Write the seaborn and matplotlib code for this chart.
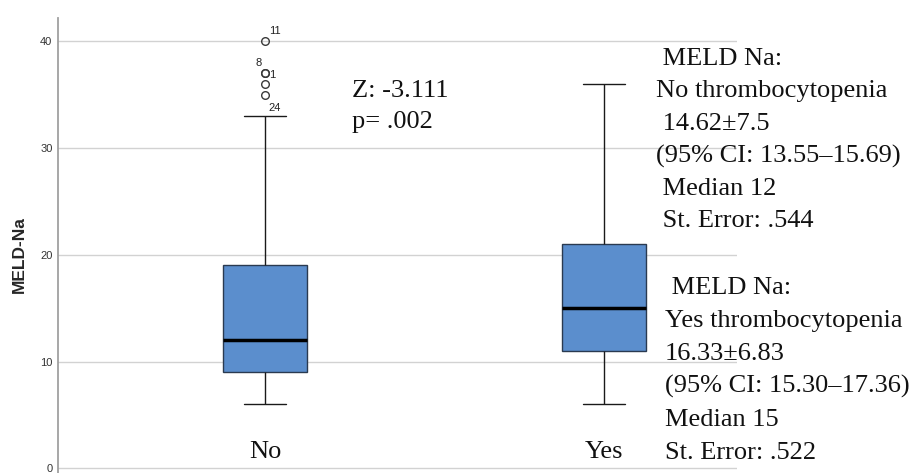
import numpy as np
import pandas as pd
import matplotlib
matplotlib.use("Agg")
import matplotlib.pyplot as plt
import seaborn as sns

# group labels shown under the boxes
groups = ["No", "Yes"]

# MELD-Na values read back from the boxes (quartiles, whiskers, outliers)
meld_no = [6, 7, 7, 8, 8, 9, 9, 10, 10, 11, 11, 12, 12, 13, 14, 15, 17, 18, 19,
           33, 35, 36, 37, 37, 40]
meld_yes = [6, 9, 11, 13, 15, 18, 21, 28, 36]

# SPSS case numbers printed next to the outliers of the "No" group
outlier_ids = ["11", "8", "1", "24"]
outlier_vals = [40, 37, 37, 35]
outlier_offsets = [(4, 7), (-3, 7), (4, -5), (3, -16)]  # pixels
outlier_ha = ["left", "right", "left", "left"]

y_ticks = [0, 10, 20, 30, 40]

test_lines = ["Z: -3.111", "p= .002"]
stats_no = [" MELD Na:", "No thrombocytopenia", " 14.62\u00b17.5",
            "(95% CI: 13.55\u201315.69)", " Median 12", " St. Error: .544"]
stats_yes = [" MELD Na:", "Yes thrombocytopenia", "16.33\u00b16.83",
             "(95% CI: 15.30\u201317.36)", "Median 15", "St. Error: .522"]

df = pd.DataFrame({
    "group": [groups[0]] * len(meld_no) + [groups[1]] * len(meld_yes),
    "meld": meld_no + meld_yes,
})

sns.set_style("white")
plt.rcParams["font.family"] = ["Liberation Sans", "DejaVu Sans"]

W, H = 922, 473
fig = plt.figure(figsize=(W / 100, H / 100), dpi=100)
ax = fig.add_axes([58 / W, 0, (737 - 58) / W, (H - 18) / H])

sns.boxplot(data=df, x="group", y="meld", order=groups, ax=ax,
            width=0.25, color="#5b8ecd", saturation=1, linecolor="#1a1a1a",
            linewidth=1, whis=1.5,
            boxprops=dict(edgecolor="#2a3a50"),
            medianprops=dict(color="black", linewidth=2.5),
            flierprops=dict(marker="o", markersize=5.5, markerfacecolor="none",
                            markeredgecolor="#3a3a3a", markeredgewidth=1))

ax.set_xlim(-0.611, 1.392)
ax.set_ylim(-0.44, 42.18)
ax.set_yticks(y_ticks)
ax.set_yticklabels([str(t) for t in y_ticks], fontsize=8, color="#333333")
ax.tick_params(axis="y", length=0, pad=4)
ax.set_xticks([])
ax.set_xlabel("")
ax.set_ylabel("MELD-Na", fontsize=12.5, fontweight="bold")
ax.yaxis.set_label_coords(-0.046, 0.48)
ax.grid(axis="y", color="#d2d2d2", linewidth=1)
ax.set_axisbelow(True)
for side in ["top", "right", "bottom"]:
    ax.spines[side].set_visible(False)
ax.spines["left"].set_color("#a0a0a0")
ax.spines["left"].set_linewidth(1.3)

# case numbers of the outliers
for lab, val, off, ha in zip(outlier_ids, outlier_vals, outlier_offsets, outlier_ha):
    ax.annotate(lab, xy=(0, val), xytext=off, textcoords="offset pixels",
                ha=ha, va="baseline", fontsize=8, color="#222222")

serif = ["Liberation Serif", "DejaVu Serif"]
fs = 19

# group names inside the plot area
for i, g in enumerate(groups):
    ax.text(i, 0.96, g, ha="center", va="baseline", fontsize=fs,
            family=serif, color="#111111")


def px_text(x, y, s):
    fig.text(x / W, 1 - y / H, s, ha="left", va="baseline", fontsize=fs,
             family=serif, color="#111111")


for k, line in enumerate(test_lines):
    px_text(352, 97 + 31 * k, line)
for k, line in enumerate(stats_no):
    px_text(656, 65 + 32.4 * k, line)
for k, line in enumerate(stats_yes):
    px_text(665, 294 + 33 * k, line)

fig.savefig("out.png", dpi=100)
